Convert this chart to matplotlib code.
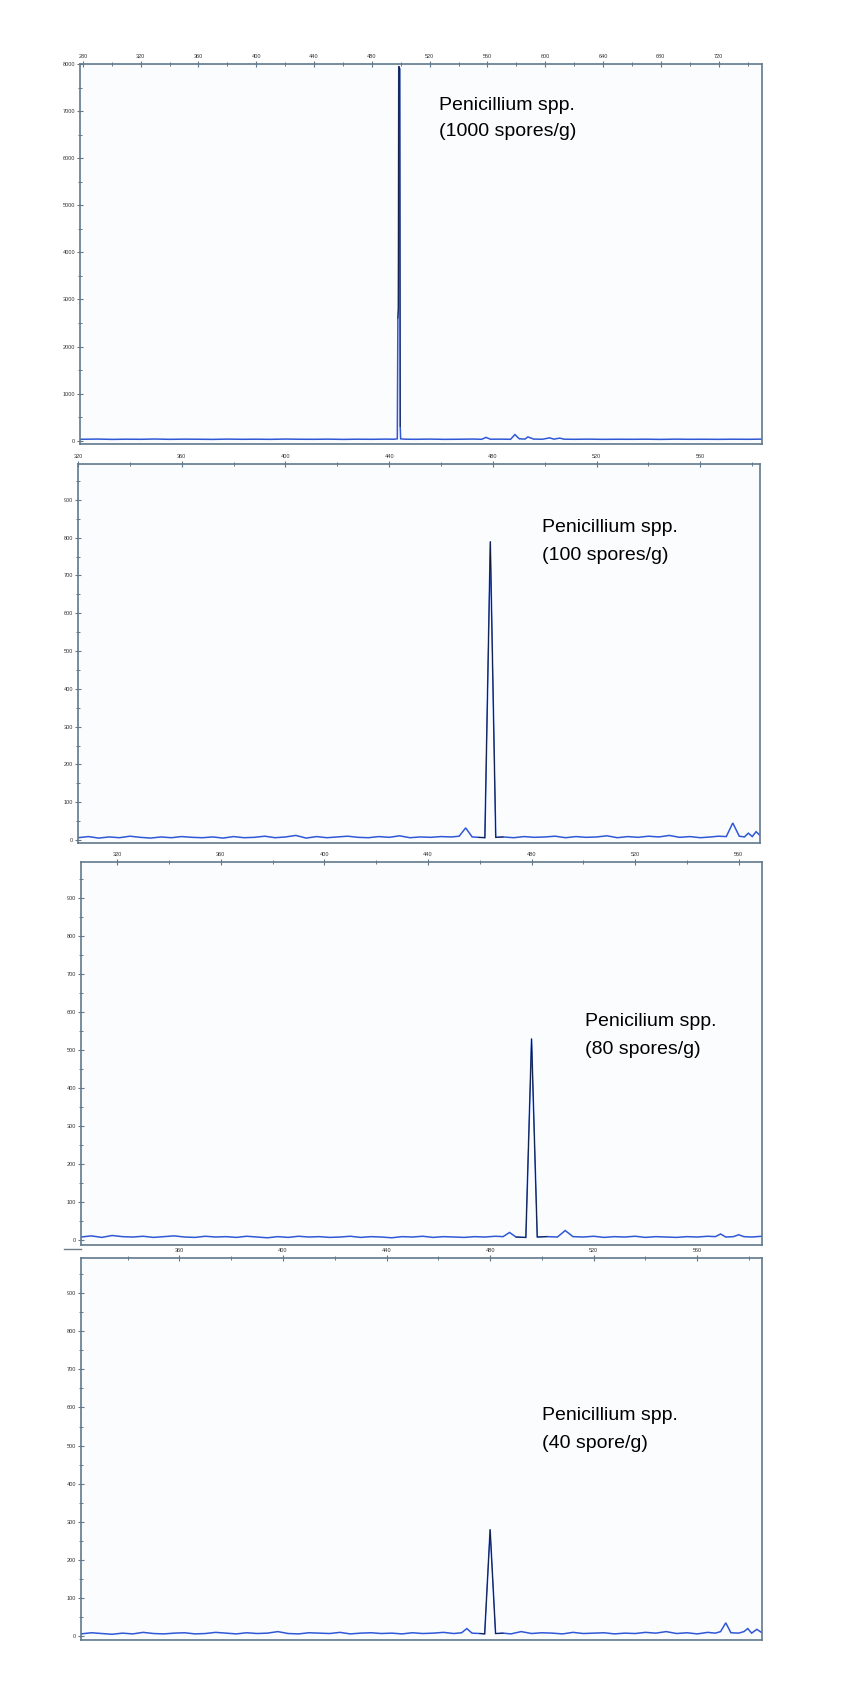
import matplotlib
matplotlib.use("Agg")
import matplotlib.pyplot as plt
from matplotlib.ticker import MultipleLocator
from matplotlib.lines import Line2D

plt.rcParams['font.family'] = ['Liberation Sans', 'DejaVu Sans']

# ---- electropherogram traces (fragment size vs. signal) ----
p1_x = [278, 290, 300, 310, 320, 330, 340, 350, 360, 370, 380, 390, 400, 410, 420, 430,
        440, 450, 460, 470, 480, 490, 495, 497.6, 498.0, 498.3, 498.6, 499.3, 499.6, 499.9,
        503, 510, 520, 530, 540, 550, 556, 559, 562, 570, 576, 579, 582, 586, 588, 592,
        598, 603, 606, 610, 613, 620, 630, 640, 650, 660, 670, 680, 690, 700, 710, 720,
        730, 740, 750]
p1_y = [30, 35, 28, 32, 30, 36, 29, 33, 31, 28, 34, 30, 32, 29, 35, 31,
        30, 33, 28, 32, 30, 34, 31, 40, 2600, 2800, 7950, 7900, 300, 40,
        32, 30, 34, 29, 31, 35, 30, 70, 32, 33, 30, 130, 40, 35, 80, 34,
        31, 60, 33, 55, 32, 30, 33, 29, 31, 30, 32, 28, 33, 30, 31, 29,
        32, 30, 33]

p2_x = [320, 324, 328, 332, 336, 340, 344, 348, 352, 356, 360, 364, 368, 372, 376, 380,
        384, 388, 392, 396, 400, 404, 408, 412, 416, 420, 424, 428, 432, 436, 440, 444,
        448, 452, 456, 460, 464, 467, 469.5, 472, 474.5, 476.9, 479, 481.1, 484, 488,
        492, 496, 500, 504, 508, 512, 516, 520, 524, 528, 532, 536, 540, 544, 548, 552,
        556, 560, 564, 567, 570, 572.5, 575, 577, 578.5, 580, 581.5, 583]
p2_y = [6, 9, 5, 8, 6, 10, 7, 5, 8, 6, 9, 7, 6, 8, 5, 9,
        6, 7, 10, 6, 8, 12, 5, 9, 6, 8, 10, 7, 6, 9, 7, 11,
        6, 8, 7, 9, 8, 10, 32, 8, 7, 6, 790, 7, 8, 6,
        9, 7, 8, 10, 6, 9, 7, 8, 11, 6, 9, 7, 10, 8, 12, 7,
        9, 6, 8, 10, 9, 45, 10, 8, 18, 9, 22, 12]

p3_x = [306, 310, 314, 318, 322, 326, 330, 334, 338, 342, 346, 350, 354, 358, 362, 366,
        370, 374, 378, 382, 386, 390, 394, 398, 402, 406, 410, 414, 418, 422, 426, 430,
        434, 438, 442, 446, 450, 454, 458, 462, 466, 469, 471.5, 474, 477.8, 480, 482.2,
        486, 490, 493, 496, 500, 504, 508, 512, 516, 520, 524, 528, 532, 536, 540, 544,
        548, 551, 553, 555, 558, 560, 562, 565, 569]
p3_y = [8, 11, 7, 12, 9, 8, 10, 7, 9, 11, 8, 7, 10, 8, 9, 7,
        10, 8, 6, 9, 7, 10, 8, 9, 7, 8, 10, 7, 9, 8, 6, 9,
        8, 10, 7, 9, 8, 7, 9, 8, 10, 9, 20, 8, 7, 530, 8,
        9, 8, 25, 9, 8, 10, 7, 9, 8, 10, 7, 9, 8, 7, 9, 8,
        10, 9, 16, 8, 9, 14, 9, 8, 10]

p4_x = [322, 326, 330, 334, 338, 342, 346, 350, 354, 358, 362, 366, 370, 374, 378, 382,
        386, 390, 394, 398, 402, 406, 410, 414, 418, 422, 426, 430, 434, 438, 442, 446,
        450, 454, 458, 462, 466, 469, 471, 473, 476, 477.9, 480, 482.1, 485, 488, 492,
        496, 500, 504, 508, 512, 516, 520, 524, 528, 532, 536, 540, 544, 548, 552, 556,
        560, 564, 567, 569, 571, 573, 576, 578, 579.5, 581, 583, 585]
p4_y = [6, 9, 7, 5, 8, 6, 10, 7, 6, 8, 9, 6, 7, 10, 8, 6,
        9, 7, 8, 12, 7, 6, 9, 8, 7, 10, 6, 8, 9, 7, 8, 6,
        9, 7, 8, 10, 7, 9, 20, 8, 7, 6, 280, 7, 8, 6, 12,
        7, 9, 8, 6, 10, 7, 8, 9, 6, 8, 7, 10, 8, 12, 7, 9,
        6, 10, 8, 12, 35, 9, 8, 12, 20, 8, 18, 9]

labels = [("Penicillium spp.", "(1000 spores/g)"),
          ("Penicillium spp.", "(100 spores/g)"),
          ("Penicilium spp.", "(80 spores/g)"),
          ("Penicillium spp.", "(40 spore/g)")]

traces = [(p1_x, p1_y), (p2_x, p2_y), (p3_x, p3_y), (p4_x, p4_y)]

# panel boxes in pixels: left, top, right, bottom
boxes = [(80, 64, 762, 444), (78, 464, 760, 843), (81, 862, 762, 1245), (81, 1258, 762, 1640)]
xlims = [(278, 750), (320, 583), (306, 569), (322, 585)]
ylims = [(-70, 8000), (-8, 995), (-13, 995), (-10, 992)]
ymajor = [1000, 100, 100, 100]
text_pos = [(439, 105, 132), (542, 528, 555), (585, 1022, 1050), (542, 1415, 1444)]

W, H = 850, 1700
fig = plt.figure(figsize=(8.5, 17), dpi=100, facecolor='white')

spine_c = '#62798b'
for i in range(4):
    l, t, r, b = boxes[i]
    ax = fig.add_axes([l / W, 1 - b / H, (r - l) / W, (b - t) / H])
    ax.set_facecolor('#fbfcfe')
    x, y = traces[i]
    ax.plot(x, y, color='#2f58d6', lw=1.1, solid_joinstyle='miter')
    # dark outline over the tall peak
    k = max(range(len(y)), key=lambda j: y[j])
    ax.plot(x[k - 2:k + 3], y[k - 2:k + 3], color='#101830', lw=0.6)
    ax.set_xlim(*xlims[i])
    ax.set_ylim(*ylims[i])
    ax.xaxis.set_major_locator(MultipleLocator(40))
    ax.xaxis.set_minor_locator(MultipleLocator(20))
    ax.yaxis.set_major_locator(MultipleLocator(ymajor[i]))
    ax.yaxis.set_minor_locator(MultipleLocator(ymajor[i] / 2))
    ax.xaxis.tick_top()
    ax.tick_params(axis='both', which='both', direction='inout', color=spine_c,
                   labelsize=4, labelcolor='#333333', pad=1.5)
    ax.tick_params(which='major', length=4, width=0.8)
    ax.tick_params(which='minor', length=3, width=0.7)
    for s in ax.spines.values():
        s.set_color(spine_c)
        s.set_linewidth(1.2)
    tx, ty1, ty2 = text_pos[i]
    fig.text(tx / W, 1 - ty1 / H, labels[i][0], fontsize=14, va='center', ha='left')
    fig.text(tx / W, 1 - ty2 / H, labels[i][1], fontsize=14, va='center', ha='left')

# short rule at the lower left of the third panel
fig.add_artist(Line2D([64 / W, 81 / W], [1 - 1249 / H, 1 - 1249 / H],
                      color='#707c86', lw=1.0))

fig.savefig('out.png', dpi=100, facecolor='white')
